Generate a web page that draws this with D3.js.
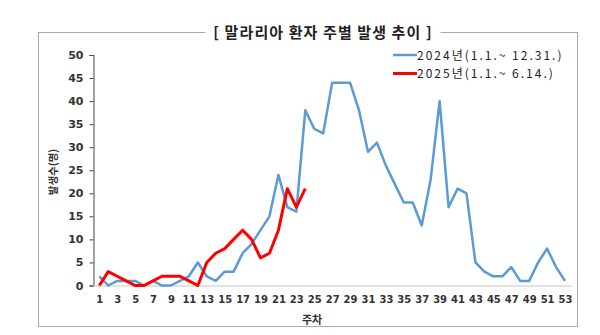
<!DOCTYPE html>
<html>
<head>
<meta charset="utf-8">
<script src="https://cdn.jsdelivr.net/npm/d3@7"></script>
<style>
  html, body { margin: 0; padding: 0; background: #fff; }
  svg { display: block; }
  text { font-family: "Noto Sans CJK KR", "Noto Sans", sans-serif; }
</style>
</head>
<body>
<svg id="chart" width="600" height="335"></svg>
<script>
// Weekly malaria patient counts
const weeks = d3.range(1, 54);
const cases2024 = [2,0,1,1,1,0,1,0,0,1,2,5,2,1,3,3,7,9,12,15,24,17,16,38,34,33,44,44,44,38,29,31,26,22,18,18,13,23,40,17,21,20,5,3,2,2,4,1,1,5,8,4,1];
const cases2025 = [0,3,2,1,0,0,1,2,2,2,1,0,5,7,8,10,12,10,6,7,12,21,17,21];
const yTicks = [0,5,10,15,20,25,30,35,40,45,50];
const xTicks = d3.range(1, 54, 2);
const seriesNames = ["2024년(1.1.~ 12.31.)", "2025년(1.1.~ 6.14.)"];
const title = "[ 말라리아 환자 주별 발생 추이 ]";

const svg = d3.select("#chart");

// dotted frame
svg.append("rect")
  .attr("x", 38.5).attr("y", 32.5).attr("width", 539).attr("height", 294)
  .attr("fill", "none").attr("stroke", "#555").attr("stroke-width", 1)
  .attr("stroke-dasharray", "1,1");

// title sits on the frame, masking the border behind it
const titleText = svg.append("text")
  .attr("x", 323).attr("y", 37.5)
  .attr("text-anchor", "middle")
  .attr("font-size", 15).attr("font-weight", "bold").attr("fill", "#222")
  .attr("letter-spacing", 1.1)
  .text(title);
const tb = titleText.node().getBBox();
svg.insert("rect", "text")
  .attr("x", tb.x - 8).attr("y", tb.y).attr("width", tb.width + 16).attr("height", tb.height)
  .attr("fill", "#fff");

const x = d3.scaleLinear().domain([1, 53]).range([99.3, 565]);
const y = d3.scaleLinear().domain([0, 50]).range([285.5, 55]);

// y axis
const yAxis = svg.append("g")
  .attr("transform", "translate(93.5,0)")
  .call(d3.axisLeft(y).tickValues(yTicks).tickSize(4).tickPadding(6));
yAxis.select(".domain").attr("stroke", "#444").attr("stroke-width", 1);
yAxis.selectAll(".tick line").attr("stroke", "#444");
yAxis.selectAll(".tick text")
  .attr("font-size", 11).attr("font-weight", "bold").attr("fill", "#333")
  .style("font-family", "'DejaVu Sans', sans-serif");

// x axis baseline
svg.append("line")
  .attr("x1", 93.5).attr("x2", 572).attr("y1", y(0) + 0.5).attr("y2", y(0) + 0.5)
  .attr("stroke", "#d9d9d9").attr("stroke-width", 1.5);

// x tick labels (odd weeks)
const xAxis = svg.append("g")
  .attr("transform", `translate(0,${y(0)})`)
  .call(d3.axisBottom(x).tickValues(xTicks).tickSize(0).tickPadding(10).tickFormat(d3.format("d")));
xAxis.select(".domain").remove();
xAxis.selectAll(".tick text")
  .attr("font-size", 10).attr("font-weight", "bold").attr("fill", "#333")
  .style("font-family", "'DejaVu Sans', sans-serif");

// axis titles
svg.append("text")
  .attr("x", 312).attr("y", 324)
  .attr("text-anchor", "middle")
  .attr("font-size", 11).attr("font-weight", "bold").attr("fill", "#333")
  .text("주차");
svg.append("text")
  .attr("transform", "translate(57,172) rotate(-90)")
  .attr("text-anchor", "middle")
  .attr("font-size", 10.5).attr("font-weight", "bold").attr("fill", "#333")
  .text("발생수(명)");

// series lines
const line = d3.line().x((d, i) => x(weeks[i])).y(d => y(d));
svg.append("path")
  .datum(cases2024)
  .attr("d", line)
  .attr("fill", "none").attr("stroke", "#5B9BD5").attr("stroke-width", 2.5)
  .attr("stroke-linejoin", "round");
svg.append("path")
  .datum(cases2025)
  .attr("d", line)
  .attr("fill", "none").attr("stroke", "#FF0000").attr("stroke-width", 3)
  .attr("stroke-linejoin", "round");

// legend
const colors = ["#5B9BD5", "#FF0000"];
const legend = svg.append("g");
seriesNames.forEach((name, i) => {
  const ly = 55 + i * 18.5;
  legend.append("line")
    .attr("x1", 393).attr("x2", 417).attr("y1", ly).attr("y2", ly)
    .attr("stroke", colors[i]).attr("stroke-width", i === 0 ? 2.5 : 3);
  legend.append("text")
    .attr("x", 417).attr("y", ly + 4.5)
    .attr("font-size", 12).attr("fill", "#222")
    .attr("letter-spacing", 2.0)
    .text(name);
});
</script>
</body>
</html>
